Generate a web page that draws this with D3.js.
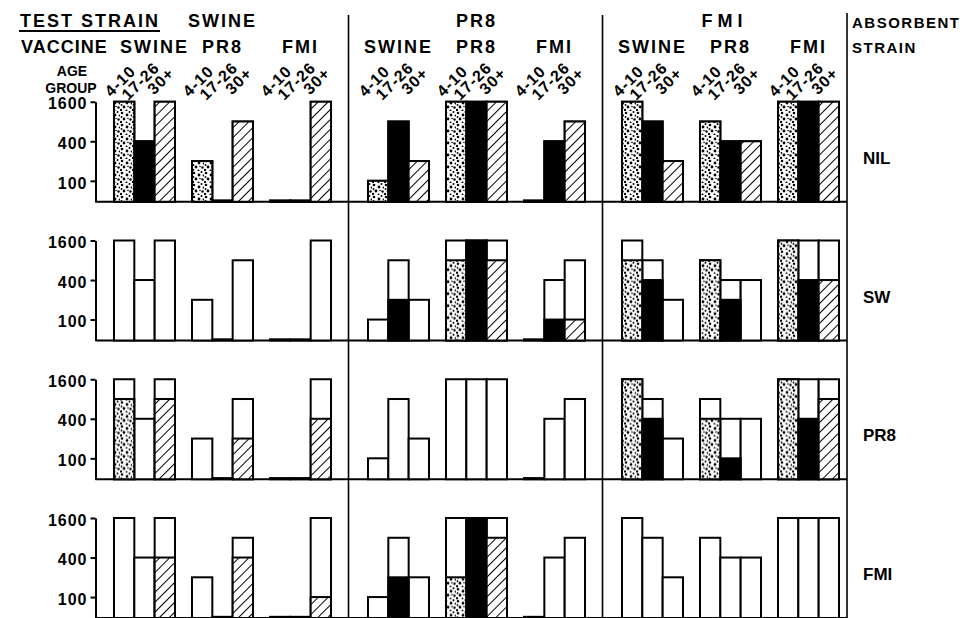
<!DOCTYPE html>
<html>
<head>
<meta charset="utf-8">
<script src="https://cdn.jsdelivr.net/npm/d3@7"></script>
<style>
  body { margin: 0; background: #fff; }
  text { font-family: "Liberation Sans", Arial, sans-serif; font-weight: bold; fill: #000; }
</style>
</head>
<body>
<script>
'use strict';

// categories
const testStrains = ["SWINE", "PR8", "FMI"];
const vaccines = ["SWINE", "PR8", "FMI"];
const ageGroups = ["4-10", "17-26", "30+"];
const absorbents = ["NIL", "SW", "PR8", "FMI"];
const titreTicks = [100, 400, 1600];

// titres, indexed [test strain][vaccine][age group]; 50 = barely above the axis, 0 = nothing left
const nilTitres = [
  [[1600, 400, 1600], [200, 50, 800], [50, 50, 1600]],
  [[100, 800, 200], [1600, 1600, 1600], [50, 400, 800]],
  [[1600, 800, 200], [800, 400, 400], [1600, 1600, 1600]]
];
const swTitres = [
  [[0, 0, 0], [0, 0, 0], [0, 0, 0]],
  [[0, 200, 0], [800, 1600, 800], [0, 100, 100]],
  [[800, 400, 0], [800, 200, 0], [1600, 400, 400]]
];
const pr8Titres = [
  [[800, 0, 800], [0, 0, 200], [0, 0, 400]],
  [[0, 0, 0], [0, 0, 0], [0, 0, 0]],
  [[1600, 400, 0], [400, 100, 0], [1600, 400, 800]]
];
const fmiTitres = [
  [[0, 0, 400], [0, 0, 400], [0, 0, 100]],
  [[0, 200, 0], [200, 1600, 800], [0, 0, 0]],
  [[0, 0, 0], [0, 0, 0], [0, 0, 0]]
];

(function () {

  let svgContainer = ""; // keep SVG reference in scope
  const absorbedTitres = [nilTitres, swTitres, pr8Titres, fmiTitres];

  window.onload = function () {
    svgContainer = d3.select('body')
      .append('svg')
      .attr('width', 969)
      .attr('height', 618);

    makePatterns();
    let scales = makeScales();
    drawFrame(scales);
    absorbents.forEach((a, i) => drawRow(scales, a, absorbedTitres[i]));
    makeLabels(scales);
  }

  // stipple for 4-10, hatch for 30+
  function makePatterns() {
    let defs = svgContainer.append('defs');

    let dots = defs.append('pattern')
      .attr('id', 'stipple')
      .attr('patternUnits', 'userSpaceOnUse')
      .attr('width', 12)
      .attr('height', 12);
    dots.append('rect').attr('width', 12).attr('height', 12).attr('fill', '#fff');
    [[2, 2, 1.3], [7, 4, 1.4], [10.5, 8.5, 1.2], [4, 8, 1.4], [9.5, 1, 1], [1, 11, 1.2],
     [6.5, 11.5, 1], [1.5, 6, 0.9], [8, 7.5, 0.8], [11.5, 4.5, 0.9]]
      .forEach(p => dots.append('circle').attr('cx', p[0]).attr('cy', p[1]).attr('r', p[2]).attr('fill', '#000'));

    let hatch = defs.append('pattern')
      .attr('id', 'hatch')
      .attr('patternUnits', 'userSpaceOnUse')
      .attr('width', 7)
      .attr('height', 7)
      .attr('patternTransform', 'rotate(45)');
    hatch.append('rect').attr('width', 7).attr('height', 7).attr('fill', '#fff');
    hatch.append('line')
      .attr('x1', 0).attr('y1', 0).attr('x2', 0).attr('y2', 7)
      .attr('stroke', '#000').attr('stroke-width', 2);
  }

  function makeScales() {
    let block = d3.scaleBand().domain(testStrains).range([95.5, 857.5]);
    let group = d3.scaleBand().domain(vaccines)
      .range([0, block.bandwidth()])
      .paddingInner(0.218)
      .paddingOuter(0.237);
    let age = d3.scaleBand().domain(ageGroups).range([0, group.bandwidth()]);
    let row = d3.scaleBand().domain(absorbents).range([63, 618]);
    let y = d3.scaleLog().domain([48, 1600]).range([row.step(), row.step() - 100]);

    let barX = (t, v, a) => block(t) + group(v) + age(a);
    let groupCenter = (t, v) => block(t) + group(v) + group.bandwidth() / 2;
    let rightEdge = block("FMI") + group("FMI") + group.bandwidth() + 8;

    return { block, group, age, row, y, barX, groupCenter, rightEdge };
  }

  // separators, baselines and the left titre axes
  function drawFrame(s) {
    ["PR8", "FMI"].forEach(t => {
      svgContainer.append('line')
        .attr('x1', s.block(t) - 1).attr('x2', s.block(t) - 1)
        .attr('y1', 15).attr('y2', 618)
        .attr('stroke', '#000').attr('stroke-width', 1.6);
    });
    svgContainer.append('line')
      .attr('x1', s.rightEdge).attr('x2', s.rightEdge)
      .attr('y1', 13).attr('y2', 618)
      .attr('stroke', '#000').attr('stroke-width', 1.6);

    absorbents.forEach(a => {
      let g = svgContainer.append('g')
        .attr('transform', 'translate(0,' + s.row(a) + ')');
      g.append('line')
        .attr('x1', s.block("SWINE")).attr('x2', s.rightEdge)
        .attr('y1', s.y.range()[0]).attr('y2', s.y.range()[0])
        .attr('stroke', '#000').attr('stroke-width', 2);

      let axis = d3.axisLeft(s.y)
        .tickValues(titreTicks)
        .tickSize(5)
        .tickSizeOuter(0)
        .tickFormat(d3.format('d'));
      let ax = g.append('g')
        .attr('transform', 'translate(' + s.block("SWINE") + ',0)')
        .call(axis);
      ax.select('.domain').attr('stroke-width', 2);
      ax.selectAll('.tick line').attr('stroke-width', 2);
      ax.selectAll('.tick text')
        .attr('dy', '0.45em')
        .style('font-family', '"Liberation Sans", Arial, sans-serif')
        .style('font-weight', 'bold')
        .style('font-size', '16px')
        .style('letter-spacing', '1px');
    });
  }

  // one absorbent row: outline at the NIL titre, filled part at the absorbed titre
  function drawRow(s, absorbent, titres) {
    let rows = [];
    testStrains.forEach((t, ti) => vaccines.forEach((v, vi) => ageGroups.forEach((a, ai) => {
      rows.push({ test: t, vac: v, age: a, nil: nilTitres[ti][vi][ai], left: titres[ti][vi][ai] });
    })));

    let base = s.y.range()[0];
    let fillFor = (a) => a === "4-10" ? 'url(#stipple)' : (a === "17-26" ? '#000' : 'url(#hatch)');

    let g = svgContainer.append('g')
      .attr('transform', 'translate(0,' + s.row(absorbent) + ')');

    g.selectAll('.outline')
      .data(rows)
      .enter()
      .append('rect')
      .attr('class', 'outline')
      .attr('x', d => s.barX(d.test, d.vac, d.age))
      .attr('width', s.age.bandwidth())
      .attr('y', d => s.y(d.nil))
      .attr('height', d => base - s.y(d.nil))
      .attr('fill', '#fff')
      .attr('stroke', '#000')
      .attr('stroke-width', 2);

    g.selectAll('.left')
      .data(rows.filter(d => d.left > 0))
      .enter()
      .append('rect')
      .attr('class', 'left')
      .attr('x', d => s.barX(d.test, d.vac, d.age))
      .attr('width', s.age.bandwidth())
      .attr('y', d => s.y(d.left))
      .attr('height', d => base - s.y(d.left))
      .attr('fill', d => fillFor(d.age))
      .attr('stroke', '#000')
      .attr('stroke-width', 2);

    g.append('text')
      .attr('x', s.rightEdge + 16)
      .attr('y', s.y.range()[1] + 62)
      .style('font-size', '17px')
      .text(absorbent);
  }

  // headings above the bars
  function makeLabels(s) {
    let head = (x, y, txt, anchor, spacing) => svgContainer.append('text')
      .attr('x', x).attr('y', y)
      .attr('text-anchor', anchor || 'middle')
      .style('font-size', '18px')
      .style('letter-spacing', (spacing || 2) + 'px')
      .text(txt);

    head(20, 27, "TEST STRAIN", 'start');
    svgContainer.append('line')
      .attr('x1', 19).attr('x2', 160).attr('y1', 31).attr('y2', 31)
      .attr('stroke', '#000').attr('stroke-width', 2);
    head(21, 53, "VACCINE", 'start', 1);

    testStrains.forEach(t => {
      head(s.groupCenter(t, "PR8") - (t === "FMI" ? 6 : 0), 27, t, 'middle', t === "FMI" ? 5 : 2);
      vaccines.forEach(v => {
        head(s.groupCenter(t, v) + (t === "SWINE" && v === "SWINE" ? 10 : 0), 53, v);
        ageGroups.forEach(a => {
          let cx = s.barX(t, v, a) + s.age.bandwidth() / 2 - 4;
          svgContainer.append('text')
            .attr('transform', 'translate(' + cx + ',81) rotate(-45)')
            .attr('text-anchor', 'middle')
            .attr('dominant-baseline', 'central')
            .style('font-size', '16px')
            .style('letter-spacing', '1px')
            .text(a);
        });
      });
    });

    svgContainer.append('text').attr('x', 72).attr('y', 76)
      .attr('text-anchor', 'middle').style('font-size', '14px').text("AGE");
    svgContainer.append('text').attr('x', 71).attr('y', 93)
      .attr('text-anchor', 'middle').style('font-size', '14px').text("GROUP");

    svgContainer.append('text').attr('x', s.rightEdge + 5).attr('y', 28)
      .style('font-size', '15px').style('letter-spacing', '1.5px').text("ABSORBENT");
    svgContainer.append('text').attr('x', s.rightEdge + 5).attr('y', 53)
      .style('font-size', '15px').style('letter-spacing', '1.5px').text("STRAIN");
  }

})();
</script>
</body>
</html>
